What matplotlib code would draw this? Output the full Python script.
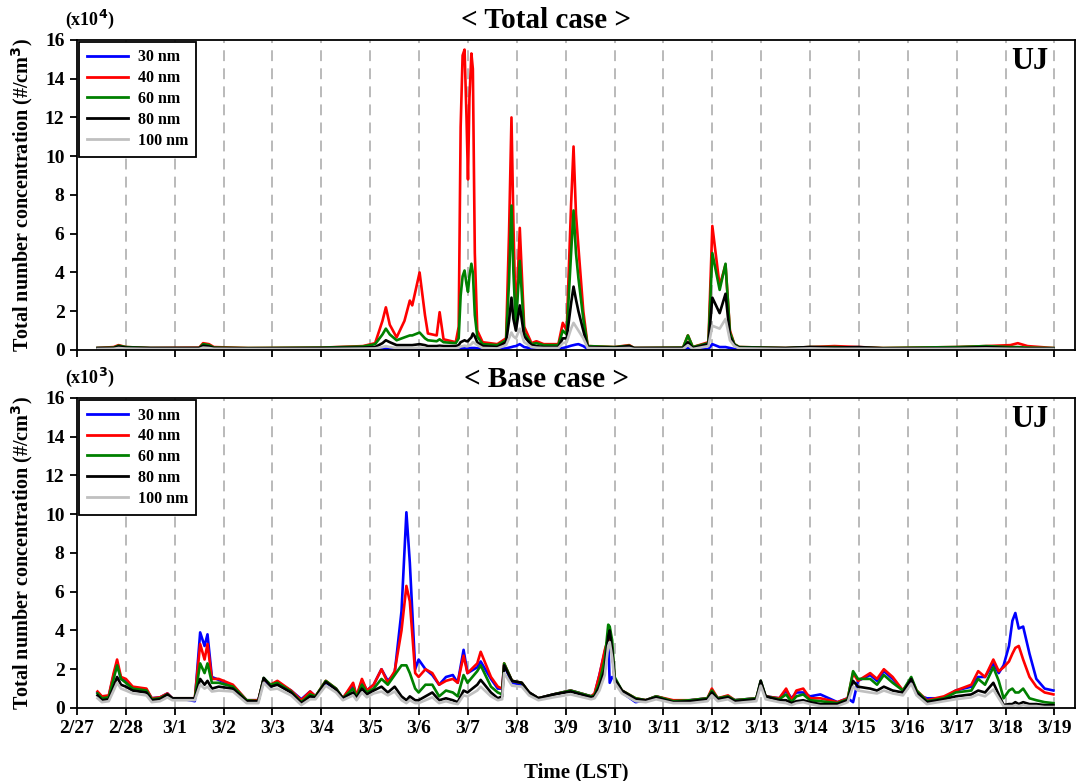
import matplotlib
matplotlib.use('Agg')
import matplotlib.pyplot as plt
import numpy as np

plt.rcParams['font.family'] = ['Liberation Serif', 'DejaVu Serif']
plt.rcParams['font.weight'] = 'bold'

# time axis: days after 2/27 00 LST
day_labels = ['2/27', '2/28', '3/1', '3/2', '3/3', '3/4', '3/5', '3/6', '3/7',
              '3/8', '3/9', '3/10', '3/11', '3/12', '3/13', '3/14', '3/15',
              '3/16', '3/17', '3/18', '3/19']
sizes = ['30 nm', '40 nm', '60 nm', '80 nm', '100 nm']
colors = ['#0000ff', '#ff0000', '#008000', '#000000', '#c0c0c0']

# ---- Total case (x10^4 #/cm3) ----
t_total = [0.42, 0.75, 0.85, 1.00, 1.50, 2.50, 2.58, 2.70, 2.80, 3.50,
           5.00, 5.85, 6.10, 6.25, 6.32, 6.40, 6.54, 6.70, 6.81, 6.86,
           7.01, 7.12, 7.18, 7.36, 7.42, 7.50, 7.75, 7.81, 7.85, 7.89,
           7.93, 7.97, 8.00, 8.03, 8.07, 8.10, 8.14, 8.19, 8.30, 8.60,
           8.78, 8.84, 8.89, 8.93, 8.98, 9.06, 9.15, 9.30, 9.40, 9.55,
           9.85, 9.94, 10.02, 10.11, 10.16, 10.21, 10.26, 10.36, 10.45, 11.00,
           11.30, 11.40, 12.40, 12.50, 12.60, 12.92, 13.00, 13.15, 13.27, 13.36,
           13.45, 13.55, 14.50, 15.00, 15.50, 16.00, 16.50, 18.00, 18.60, 19.10,
           19.25, 19.45, 19.98]
total_30 = [0.02, 0.02, 0.03, 0.02, 0.02, 0.02, 0.03, 0.03, 0.02, 0.02,
            0.02, 0.02, 0.03, 0.05, 0.06, 0.05, 0.04, 0.04, 0.05, 0.05,
            0.06, 0.04, 0.04, 0.04, 0.05, 0.04, 0.04, 0.05, 0.07, 0.08,
            0.08, 0.07, 0.07, 0.09, 0.10, 0.10, 0.10, 0.08, 0.06, 0.05,
            0.08, 0.12, 0.15, 0.18, 0.20, 0.30, 0.15, 0.08, 0.06, 0.05,
            0.04, 0.10, 0.15, 0.22, 0.25, 0.28, 0.30, 0.20, 0.05, 0.02,
            0.03, 0.02, 0.02, 0.10, 0.03, 0.05, 0.30, 0.15, 0.15, 0.10,
            0.05, 0.02, 0.02, 0.02, 0.02, 0.02, 0.02, 0.02, 0.02, 0.03,
            0.03, 0.02, 0.02]
total_40 = [0.10, 0.15, 0.25, 0.15, 0.10, 0.12, 0.35, 0.30, 0.15, 0.10,
            0.12, 0.20, 0.35, 1.50, 2.20, 1.30, 0.65, 1.50, 2.55, 2.30,
            4.00, 1.80, 0.85, 0.75, 1.95, 0.55, 0.40, 1.20, 11.5, 15.2,
            15.5, 12.0, 8.80, 13.0, 15.3, 14.5, 5.00, 1.00, 0.40, 0.30,
            0.60, 6.00, 12.0, 6.50, 1.30, 6.30, 1.20, 0.35, 0.45, 0.30,
            0.30, 1.40, 1.00, 7.50, 10.5, 7.00, 5.30, 2.00, 0.20, 0.15,
            0.25, 0.10, 0.12, 0.75, 0.15, 0.40, 6.40, 3.30, 4.40, 1.00,
            0.30, 0.15, 0.10, 0.15, 0.20, 0.15, 0.10, 0.15, 0.20, 0.25,
            0.35, 0.20, 0.10]
total_60 = [0.10, 0.12, 0.22, 0.15, 0.10, 0.10, 0.30, 0.25, 0.12, 0.10,
            0.12, 0.18, 0.30, 0.80, 1.10, 0.80, 0.50, 0.65, 0.75, 0.75,
            0.90, 0.60, 0.50, 0.45, 0.55, 0.40, 0.35, 0.60, 2.80, 3.80,
            4.10, 3.40, 3.00, 3.80, 4.45, 4.00, 1.80, 0.70, 0.30, 0.25,
            0.50, 3.50, 7.45, 4.00, 1.20, 4.60, 0.90, 0.30, 0.35, 0.25,
            0.25, 1.00, 0.80, 5.00, 7.20, 5.00, 3.70, 1.60, 0.20, 0.15,
            0.22, 0.10, 0.12, 0.75, 0.15, 0.35, 5.00, 3.10, 4.45, 0.90,
            0.30, 0.15, 0.10, 0.15, 0.15, 0.12, 0.10, 0.15, 0.20, 0.15,
            0.15, 0.12, 0.10]
total_80 = [0.10, 0.10, 0.18, 0.12, 0.10, 0.10, 0.22, 0.18, 0.10, 0.08,
            0.10, 0.12, 0.15, 0.35, 0.50, 0.40, 0.25, 0.25, 0.25, 0.25,
            0.30, 0.25, 0.20, 0.20, 0.22, 0.20, 0.20, 0.25, 0.40, 0.45,
            0.50, 0.45, 0.45, 0.55, 0.65, 0.85, 0.70, 0.40, 0.20, 0.15,
            0.40, 1.50, 2.70, 1.60, 1.00, 2.30, 0.70, 0.25, 0.20, 0.15,
            0.15, 0.60, 0.60, 2.40, 3.27, 2.60, 2.00, 1.00, 0.15, 0.12,
            0.20, 0.10, 0.10, 0.40, 0.10, 0.30, 2.70, 1.90, 2.90, 0.70,
            0.25, 0.12, 0.10, 0.15, 0.12, 0.15, 0.08, 0.10, 0.15, 0.10,
            0.10, 0.08, 0.08]
total_100 = [0.05, 0.06, 0.10, 0.07, 0.05, 0.05, 0.12, 0.10, 0.06, 0.05,
             0.05, 0.07, 0.08, 0.15, 0.20, 0.15, 0.10, 0.10, 0.10, 0.10,
             0.12, 0.10, 0.08, 0.08, 0.10, 0.08, 0.08, 0.12, 0.18, 0.20,
             0.22, 0.20, 0.20, 0.25, 0.30, 0.40, 0.35, 0.25, 0.10, 0.08,
             0.25, 0.60, 0.90, 0.70, 0.60, 1.10, 0.40, 0.15, 0.12, 0.10,
             0.10, 0.35, 0.40, 1.10, 1.40, 1.20, 1.00, 0.60, 0.10, 0.08,
             0.10, 0.05, 0.05, 0.25, 0.05, 0.20, 1.25, 1.10, 1.60, 0.50,
             0.20, 0.08, 0.05, 0.08, 0.06, 0.06, 0.05, 0.06, 0.08, 0.06,
             0.06, 0.05, 0.05]

# ---- Base case (x10^3 #/cm3) ----
t_base = [0.42, 0.51, 0.65, 0.75, 0.82, 0.90, 1.00, 1.14, 1.42, 1.53,
          1.70, 1.85, 1.95, 2.20, 2.41, 2.52, 2.61, 2.67, 2.76, 2.90,
          3.19, 3.47, 3.71, 3.82, 3.96, 4.10, 4.38, 4.59, 4.77, 4.88,
          5.09, 5.30, 5.44, 5.65, 5.72, 5.83, 5.93, 6.07, 6.23, 6.36,
          6.50, 6.64, 6.74, 6.81, 6.92, 6.99, 7.13, 7.27, 7.41, 7.55,
          7.69, 7.79, 7.91, 7.99, 8.19, 8.26, 8.47, 8.61, 8.70, 8.74,
          8.90, 9.10, 9.25, 9.44, 9.75, 10.10, 10.52, 10.59, 10.69, 10.80,
          10.87, 10.90, 10.95, 11.00, 11.15, 11.43, 11.64, 11.85, 12.20, 12.55,
          12.90, 12.99, 13.11, 13.32, 13.46, 13.90, 13.99, 14.09, 14.37, 14.51,
          14.62, 14.72, 14.86, 15.00, 15.21, 15.56, 15.77, 15.88, 15.98, 16.23,
          16.37, 16.51, 16.69, 16.90, 17.07, 17.18, 17.39, 17.74, 17.98, 18.30,
          18.44, 18.58, 18.75, 18.86, 18.96, 19.07, 19.14, 19.20, 19.27, 19.36,
          19.49, 19.63, 19.80, 19.98]
base_30 = [0.80, 0.55, 0.60, 1.70, 2.30, 1.50, 1.40, 1.05, 0.95, 0.50,
           0.55, 0.75, 0.50, 0.45, 0.35, 3.90, 3.20, 3.80, 1.60, 1.45,
           1.15, 0.40, 0.40, 1.40, 1.10, 1.30, 0.90, 0.45, 0.85, 0.60,
           1.30, 1.00, 0.50, 1.20, 0.60, 1.40, 0.90, 1.20, 2.00, 1.40,
           1.80, 5.00, 10.1, 7.50, 2.00, 2.50, 2.00, 1.70, 1.20, 1.60,
           1.70, 1.30, 3.00, 1.80, 2.10, 2.40, 1.50, 1.00, 1.00, 2.20,
           1.30, 1.20, 0.80, 0.50, 0.70, 0.90, 0.60, 0.70, 1.70, 2.90,
           3.60, 1.30, 1.60, 1.50, 0.80, 0.30, 0.40, 0.60, 0.35, 0.40,
           0.50, 0.90, 0.50, 0.60, 0.40, 0.50, 1.20, 0.60, 0.50, 0.90,
           0.50, 0.80, 0.80, 0.60, 0.70, 0.30, 0.50, 0.30, 1.40, 1.70,
           1.40, 1.90, 1.50, 0.90, 1.40, 0.70, 0.50, 0.50, 0.90, 1.10,
           1.60, 1.60, 2.30, 1.80, 2.20, 3.20, 4.50, 4.90, 4.10, 4.20,
           2.80, 1.50, 1.00, 0.90]
base_40 = [0.85, 0.60, 0.65, 1.80, 2.50, 1.60, 1.50, 1.10, 1.00, 0.50,
           0.55, 0.75, 0.50, 0.50, 0.50, 3.30, 2.50, 3.30, 1.50, 1.50,
           1.20, 0.40, 0.40, 1.50, 1.20, 1.40, 0.90, 0.40, 0.85, 0.60,
           1.40, 1.00, 0.50, 1.30, 0.60, 1.50, 0.90, 1.20, 2.00, 1.30,
           1.90, 4.00, 6.30, 5.50, 1.80, 1.60, 2.00, 1.80, 1.20, 1.40,
           1.50, 1.30, 2.70, 1.80, 2.30, 2.90, 1.60, 1.10, 1.00, 2.30,
           1.40, 1.30, 0.80, 0.50, 0.70, 0.90, 0.60, 0.75, 1.70, 3.00,
           3.60, 3.40, 3.00, 1.50, 0.90, 0.50, 0.40, 0.60, 0.40, 0.40,
           0.50, 1.00, 0.50, 0.65, 0.40, 0.50, 1.30, 0.60, 0.50, 1.00,
           0.40, 0.90, 1.00, 0.50, 0.50, 0.30, 0.50, 1.80, 1.40, 1.80,
           1.50, 2.00, 1.60, 0.90, 1.50, 0.90, 0.40, 0.60, 0.90, 1.20,
           1.90, 1.60, 2.50, 1.90, 2.10, 2.40, 2.80, 3.10, 3.20, 2.50,
           1.60, 1.10, 0.80, 0.70]
base_60 = [0.75, 0.50, 0.55, 1.50, 2.20, 1.50, 1.30, 1.00, 0.90, 0.45,
           0.50, 0.70, 0.50, 0.50, 0.50, 2.30, 1.80, 2.30, 1.30, 1.30,
           1.10, 0.40, 0.35, 1.55, 1.20, 1.30, 0.85, 0.30, 0.70, 0.60,
           1.40, 1.00, 0.50, 1.00, 0.55, 1.20, 0.80, 1.00, 1.50, 1.20,
           1.70, 2.20, 2.20, 1.80, 1.00, 0.80, 1.20, 1.20, 0.60, 0.90,
           0.80, 0.60, 1.70, 1.30, 1.90, 2.20, 1.10, 0.80, 0.70, 2.30,
           1.40, 1.30, 0.80, 0.50, 0.70, 0.90, 0.60, 0.65, 1.30, 2.50,
           4.30, 4.20, 3.50, 1.60, 0.90, 0.50, 0.40, 0.60, 0.35, 0.40,
           0.50, 0.90, 0.50, 0.60, 0.40, 0.50, 1.40, 0.60, 0.45, 0.70,
           0.30, 0.60, 0.70, 0.40, 0.35, 0.25, 0.45, 1.90, 1.50, 1.50,
           1.20, 1.70, 1.30, 0.90, 1.60, 0.90, 0.35, 0.50, 0.80, 0.90,
           1.50, 1.20, 2.10, 1.40, 0.50, 0.90, 1.00, 0.80, 0.80, 1.00,
           0.50, 0.40, 0.30, 0.25]
base_80 = [0.65, 0.40, 0.45, 1.10, 1.60, 1.20, 1.10, 0.90, 0.80, 0.40,
           0.45, 0.70, 0.50, 0.50, 0.50, 1.50, 1.20, 1.40, 1.00, 1.10,
           1.00, 0.35, 0.35, 1.55, 1.10, 1.20, 0.80, 0.25, 0.60, 0.55,
           1.35, 0.95, 0.50, 0.80, 0.50, 1.00, 0.70, 0.90, 1.10, 0.80,
           1.10, 0.60, 0.40, 0.60, 0.40, 0.40, 0.60, 0.80, 0.40, 0.50,
           0.40, 0.30, 0.90, 0.80, 1.20, 1.45, 0.80, 0.50, 0.60, 2.20,
           1.40, 1.30, 0.80, 0.50, 0.70, 0.85, 0.55, 0.60, 1.10, 2.00,
           3.70, 4.00, 3.00, 1.50, 0.90, 0.45, 0.40, 0.55, 0.30, 0.35,
           0.45, 0.80, 0.45, 0.55, 0.35, 0.45, 1.40, 0.60, 0.40, 0.40,
           0.25, 0.35, 0.40, 0.30, 0.20, 0.20, 0.40, 1.40, 1.10, 1.00,
           0.90, 1.10, 0.90, 0.80, 1.50, 0.80, 0.30, 0.45, 0.60, 0.70,
           0.90, 0.80, 1.30, 0.70, 0.15, 0.20, 0.20, 0.30, 0.20, 0.30,
           0.20, 0.20, 0.15, 0.15]
base_100 = [0.50, 0.30, 0.35, 0.90, 1.30, 1.00, 0.90, 0.75, 0.65, 0.30,
            0.35, 0.55, 0.40, 0.40, 0.40, 1.20, 1.00, 1.10, 0.85, 0.90,
            0.85, 0.25, 0.25, 1.30, 0.95, 1.00, 0.65, 0.15, 0.45, 0.45,
            1.15, 0.80, 0.40, 0.65, 0.40, 0.80, 0.55, 0.75, 0.85, 0.65,
            0.85, 0.40, 0.25, 0.40, 0.25, 0.25, 0.40, 0.55, 0.25, 0.35,
            0.25, 0.20, 0.65, 0.60, 0.90, 1.10, 0.60, 0.40, 0.45, 1.80,
            1.15, 1.10, 0.65, 0.40, 0.55, 0.70, 0.45, 0.50, 0.90, 1.70,
            3.20, 3.40, 2.60, 1.30, 0.75, 0.35, 0.30, 0.45, 0.25, 0.25,
            0.35, 0.65, 0.35, 0.45, 0.25, 0.35, 1.15, 0.45, 0.30, 0.25,
            0.15, 0.25, 0.30, 0.20, 0.10, 0.10, 0.30, 1.10, 0.90, 0.80,
            0.75, 0.90, 0.75, 0.65, 1.25, 0.65, 0.20, 0.35, 0.45, 0.55,
            0.70, 0.60, 0.95, 0.50, 0.10, 0.10, 0.10, 0.15, 0.10, 0.15,
            0.10, 0.10, 0.05, 0.05]


def draw_panel(ax, t, series, mult, show_xlabels):
    for vals, c, lab in zip(series, colors, sizes):
        ax.plot(t, vals, color=c, lw=1.9, label=lab)
    ax.set_xlim(0, 20.42)
    ax.set_ylim(0, 16)
    ax.set_xticks(np.arange(len(day_labels)))
    ax.set_yticks(np.arange(0, 17, 2))
    # dashed day markers
    for d in range(1, len(day_labels)):
        ax.axvline(d, color='#b4b4b4', lw=1.3, ls=(0, (6, 4)), zorder=0)
    if show_xlabels:
        ax.set_xticklabels(day_labels)
    else:
        ax.set_xticklabels([])
    ax.tick_params(direction='out', length=5, width=1.3, labelsize=14, pad=4)
    for lbl in ax.get_xticklabels() + ax.get_yticklabels():
        lbl.set_fontweight('bold')
    for sp in ax.spines.values():
        sp.set_linewidth(1.3)
    ax.set_ylabel('Total number concentration (#/cm$^{\\mathbf{3}}$)',
                  fontsize=14.5, fontweight='bold', labelpad=7)
    ax.text(0.013, 1.065, mult, transform=ax.transAxes, ha='center',
            va='center', fontsize=13, fontweight='bold')
    ax.text(0.973, 0.93, 'UJ', transform=ax.transAxes, ha='right',
            va='center', fontsize=22, fontweight='bold')
    leg = ax.legend(loc='upper left', borderaxespad=0.1, fontsize=11.5,
                    handlelength=2.6, fancybox=False, framealpha=1,
                    edgecolor='black', borderpad=0.5, labelspacing=0.3,
                    handletextpad=0.6)
    leg.get_frame().set_linewidth(1.3)
    for txt in leg.get_texts():
        txt.set_fontweight('bold')
    for h in leg.get_lines():
        h.set_linewidth(2)


fig = plt.figure(figsize=(10.77, 7.81), dpi=100)
ax1 = fig.add_axes([0.0715, 0.5519, 0.9266, 0.397])
ax2 = fig.add_axes([0.0715, 0.0935, 0.9266, 0.397])

draw_panel(ax1, t_total, [total_30, total_40, total_60, total_80, total_100],
           '(x10$^{\\mathbf{4}}$)', False)
draw_panel(ax2, t_base, [base_30, base_40, base_60, base_80, base_100],
           '(x10$^{\\mathbf{3}}$)', True)

fig.text(546 / 1077, 1 - 20 / 781, '< Total case >', ha='center', va='center',
         fontsize=21, fontweight='bold')
fig.text(546 / 1077, 1 - 379 / 781, '< Base case >', ha='center', va='center',
         fontsize=21, fontweight='bold')
ax2.set_xlabel('Time (LST)', fontsize=15, fontweight='bold', labelpad=18)

fig.savefig('out.png', dpi=100)
